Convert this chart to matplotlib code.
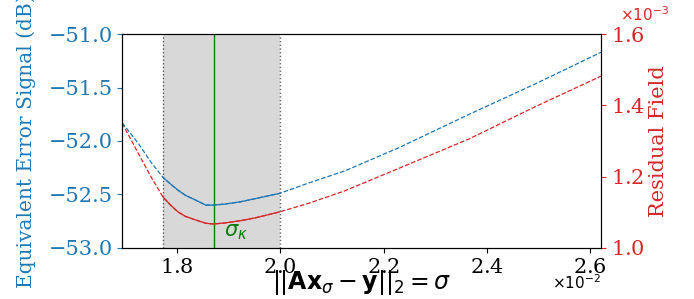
import matplotlib
matplotlib.use("Agg")
import matplotlib.pyplot as plt
import numpy as np

# sigma values (residual norm) and the two curves
sigma = [0.01694, 0.01725, 0.01750, 0.01773, 0.01787, 0.01802, 0.01817, 0.01835,
         0.01856, 0.01871, 0.01893, 0.01922, 0.01951, 0.01999, 0.02057, 0.02125,
         0.02231, 0.02366, 0.02492, 0.02621]
error_db = [-51.83, -52.02, -52.20, -52.34, -52.40, -52.46, -52.51, -52.55,
            -52.60, -52.60, -52.59, -52.57, -52.54, -52.49, -52.39, -52.28,
            -52.06, -51.75, -51.47, -51.17]
residual = [1.350e-3, 1.266e-3, 1.199e-3, 1.143e-3, 1.121e-3, 1.101e-3, 1.088e-3, 1.079e-3,
            1.069e-3, 1.067e-3, 1.070e-3, 1.076e-3, 1.084e-3, 1.101e-3, 1.126e-3, 1.160e-3,
            1.224e-3, 1.306e-3, 1.395e-3, 1.482e-3]

sigma_lo, sigma_hi = 0.01773, 0.0200
sigma_k = 0.018715

plt.rcParams['font.family'] = 'serif'

sigma = np.array(sigma)
error_db = np.array(error_db)
residual = np.array(residual)
inside = (sigma >= sigma_lo) & (sigma <= sigma_hi)

fig, ax = plt.subplots(figsize=(6.94, 2.99), dpi=100)
fig.subplots_adjust(left=0.176, right=0.866, top=0.886, bottom=0.171)

ax.axvspan(sigma_lo, sigma_hi, color='gray', alpha=0.3, lw=0)
ax.axvline(sigma_lo, color='k', ls=':', lw=1, alpha=0.6)
ax.axvline(sigma_hi, color='k', ls=':', lw=1, alpha=0.6)
ax.axvline(sigma_k, color='green', lw=1)

ax.plot(sigma, error_db, color='tab:blue', ls='--', lw=0.9)
ax.plot(sigma[inside], error_db[inside], color='tab:blue', lw=0.9)
ax.set_xlim(0.01694, 0.02621)
ax.set_ylim(-53, -51)
ax.set_yticks([-53, -52.5, -52, -51.5, -51])
ax.set_ylabel('Equivalent Error Signal (dB)', color='tab:blue', fontsize=14.5)
ax.yaxis.set_label_coords(-0.180, 0.5)
ax.tick_params(axis='y', colors='tab:blue', labelsize=15, pad=3)
ax.tick_params(axis='x', labelsize=15)
ax.set_xlabel(r'$||\mathbf{Ax}_\sigma - \mathbf{y}||_2 = \sigma$', fontsize=17)
ax.xaxis.set_label_coords(0.5, -0.092)
ax.ticklabel_format(axis='x', style='sci', scilimits=(0, 0), useMathText=True)
ax.xaxis.get_offset_text().set_visible(False)
ax.text(1.0, -0.192, r'$\times10^{-2}$', transform=ax.transAxes,
        ha='right', va='baseline', fontsize=11)
ax.text(sigma_k + 0.0002, -52.89, r'$\sigma_\kappa$', color='green', fontsize=15)

ax2 = ax.twinx()
ax2.plot(sigma, residual, color='tab:red', ls='--', lw=0.9)
ax2.plot(sigma[inside], residual[inside], color='tab:red', lw=0.9)
ax2.set_ylim(1.0e-3, 1.6e-3)
ax2.set_yticks([1.0e-3, 1.2e-3, 1.4e-3, 1.6e-3])
ax2.ticklabel_format(axis='y', style='sci', scilimits=(0, 0), useMathText=True)
ax2.tick_params(axis='y', colors='tab:red', labelsize=15)
ax2.yaxis.get_offset_text().set_visible(False)
ax2.text(1.04, 1.061, r'$\times10^{-3}$', transform=ax2.transAxes,
         ha='left', va='baseline', fontsize=11, color='tab:red')
ax2.set_ylabel('Residual Field', color='tab:red', fontsize=15)
ax2.yaxis.set_label_coords(1.100, 0.5)

fig.savefig('out.png', dpi=100)
